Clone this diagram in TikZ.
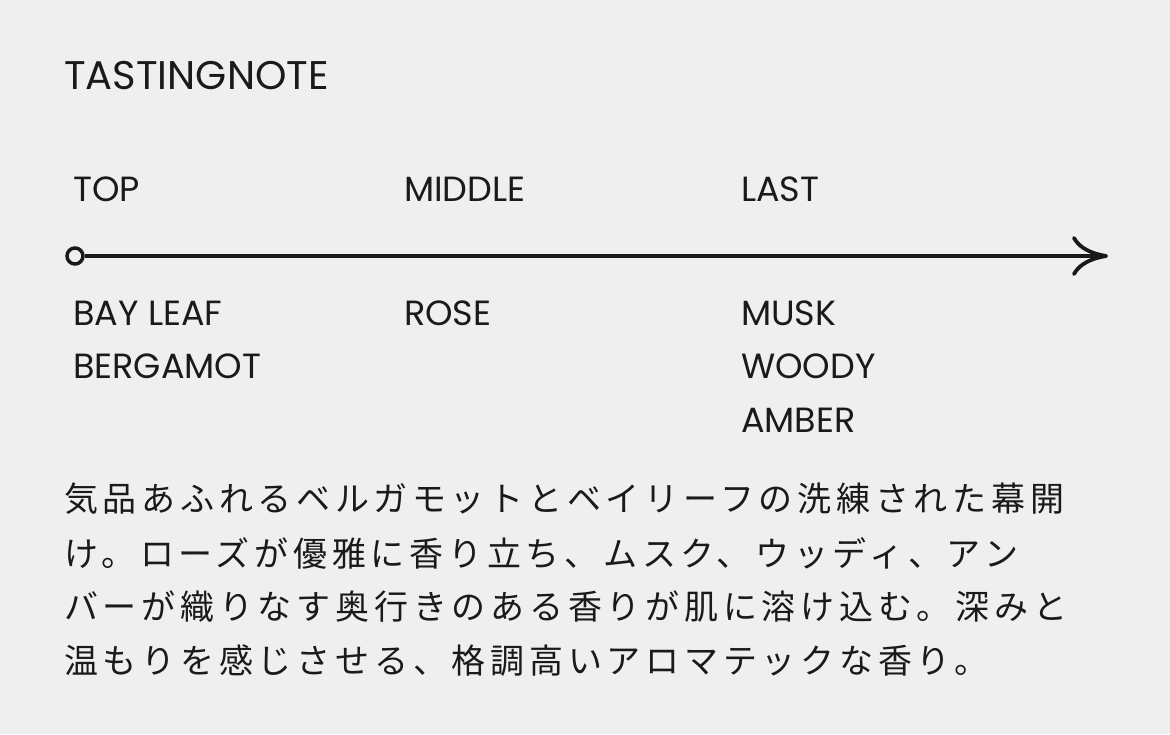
\documentclass[tikz,border=0pt]{standalone}
\usepackage{fontspec}
\setmainfont{Poppins}
\newfontfamily\jpfont[LetterSpace=14]{Noto Sans CJK JP}
\usetikzlibrary{positioning, arrows.meta}
\definecolor{bg}{HTML}{EFEFEF}
\definecolor{ink}{HTML}{1A1A1A}

\tikzset{
    label/.style={anchor=base west, inner sep=0pt, text=ink, font=\fontsize{35}{35}\selectfont},
    jpline/.style={anchor=west, inner sep=0pt, text=ink, font=\jpfont\fontsize{34}{34}\selectfont}
}

\begin{document}
\begin{tikzpicture}[x=1pt, y=-1pt]
        \fill[bg] (0,0) rectangle (1170,734);
        \useasboundingbox (0,0) rectangle (1170,734);

        \node[label, font=\fontsize{40}{40}\selectfont] (title) at (64,89) {TASTINGNOTE};

        \node[label] (top) at (73,201) {TOP};
        \node[label] (middle) at (404,201) {MIDDLE};
        \node[label] (last) at (741,201) {LAST};

        \node[circle, draw=ink, line width=3.5pt, minimum size=16pt, inner sep=0pt] (start) at (75,256) {};
        \coordinate (end) at (1108,256);
        \draw[ink, line width=4pt, -{Computer Modern Rightarrow[length=36pt, width=40pt, line width=3.8pt]}] (start) -- (end);

        \node[label] (bay) at (73,325) {BAY LEAF};
        \node[label] (berg) at (73,378) {BERGAMOT};
        \node[label] (rose) at (404,325) {ROSE};
        \node[label] (musk) at (741,325) {MUSK};
        \node[label] (woody) at (741,378) {WOODY};
        \node[label] (amber) at (741,432) {AMBER};

        \node[jpline] (jp1) at (64,499) {気品あふれるベルガモットとベイリーフの洗練された幕開};
        \node[jpline] (jp2) at (64,553) {け。ローズが優雅に香り立ち、ムスク、ウッディ、アン};
        \node[jpline] (jp3) at (64,607) {バーが織りなす奥行きのある香りが肌に溶け込む。深みと};
        \node[jpline] (jp4) at (64,661) {温もりを感じさせる、格調高いアロマテックな香り。};
    \end{tikzpicture}
\end{document}
